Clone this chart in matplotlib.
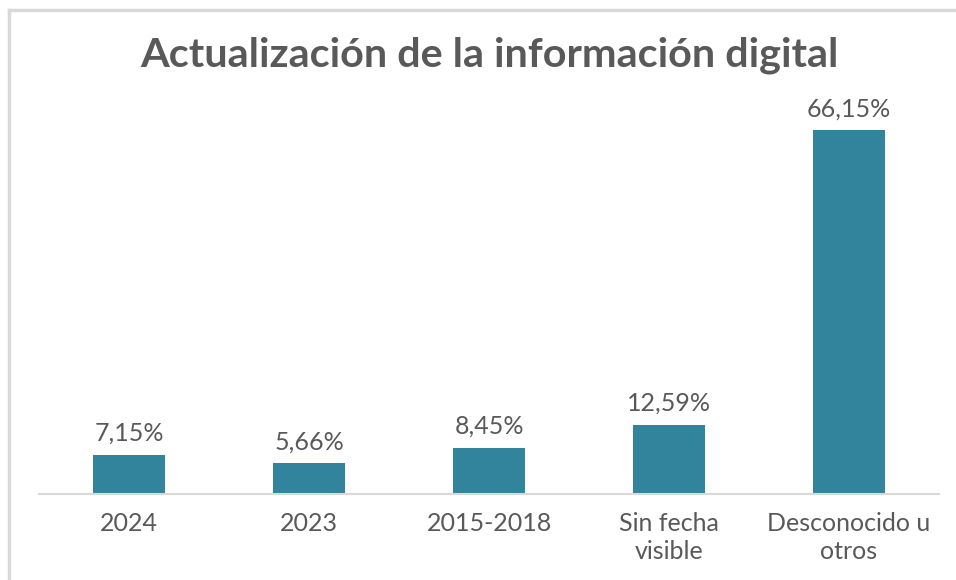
import matplotlib
matplotlib.use("Agg")
import matplotlib.pyplot as plt
from matplotlib.lines import Line2D

categories = ["2024", "2023", "2015-2018", "Sin fecha\nvisible", "Desconocido u\notros"]
values = [7.15, 5.66, 8.45, 12.59, 66.15]
labels = ["7,15%", "5,66%", "8,45%", "12,59%", "66,15%"]

bar_color = "#31849B"
text_color = "#595959"
line_color = "#D9D9D9"

plt.rcParams["font.family"] = ["Lato", "DejaVu Sans"]

fig = plt.figure(figsize=(9.56, 5.8), dpi=100)
W, H = 956, 580

# chart border (top and left only visible, rest cropped)
fig.add_artist(Line2D([9 / W, 1], [1 - 10 / H, 1 - 10 / H], color=line_color, lw=2.5))
fig.add_artist(Line2D([9 / W, 9 / W], [0, 1 - 10 / H], color=line_color, lw=2.5))

ax = fig.add_axes([39 / W, 86 / H, 900 / W, (494 - 109) / H])
x = range(len(categories))
ax.bar(x, values, width=0.4, color=bar_color)
ax.set_xlim(-0.5, len(categories) - 0.5)
ax.set_ylim(0, 70)

for i, (v, lab) in enumerate(zip(values, labels)):
    ax.annotate(lab, (i, v), xytext=(0, 7), textcoords="offset points",
                ha="center", va="bottom", fontsize=18, color=text_color)

ax.set_xticks(list(x))
ax.set_xticklabels(categories, fontsize=18, color=text_color,
                   linespacing=1.25, va="top")
ax.tick_params(axis="x", length=0, pad=13)
ax.set_yticks([])
for s in ["top", "right", "left"]:
    ax.spines[s].set_visible(False)
ax.spines["bottom"].set_color(line_color)
ax.spines["bottom"].set_linewidth(1.5)

fig.text(489 / W, 1 - 55 / H, "Actualización de la información digital", ha="center", va="center",
         fontsize=29.8, fontweight="bold", color=text_color)

fig.savefig("out.png", dpi=100)
